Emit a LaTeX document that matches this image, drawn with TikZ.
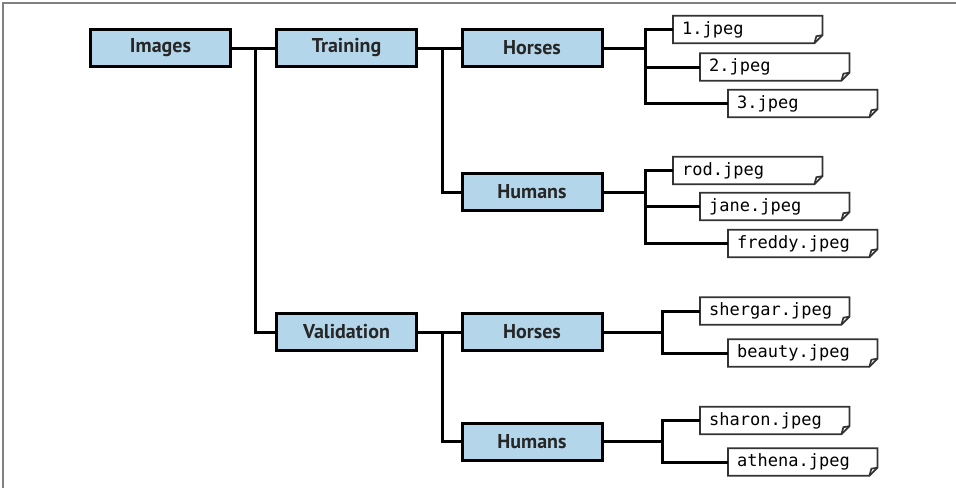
\documentclass[tikz,border=0pt]{standalone}
\usepackage{fontspec}
\setmainfont{PT Sans}
\setmonofont{DejaVu Sans Mono}
\usetikzlibrary{positioning}
\definecolor{folderblue}{RGB}{180,214,234}

\tikzset{
    folder/.style={draw, line width=3pt, fill=folderblue, minimum width=140pt,
        minimum height=37pt, font=\bfseries\fontsize{20}{20}\selectfont, text=black!85},
    file/.style={minimum width=149pt, minimum height=27pt, inner xsep=9pt, inner ysep=0pt,
        anchor=west, text width=131pt, align=left, font=\ttfamily\fontsize{17}{17}\selectfont},
    fileline/.style={line width=1.7pt, draw=black!80, line join=miter},
    link/.style={line width=3pt}
}

\begin{document}
\begin{tikzpicture}[x=1pt, y=-1pt]
    \useasboundingbox (0,0) rectangle (956,488);
    \draw[gray, line width=1.2pt] (3,488) -- (3,3) -- (956,3);

    % folders
    \node[folder] at (160.5,48) (images) {Images};
    \node[folder] at (346.5,48) (training) {Training};
    \node[folder] at (346.5,332) (validation) {Validation};
    \node[folder] at (532,48) (train_horses) {Horses};
    \node[folder] at (532,192) (train_humans) {Humans};
    \node[folder] at (532,332) (val_horses) {Horses};
    \node[folder] at (532,441.5) (val_humans) {Humans};

    \draw[link] (images.east) -- (training.west);
    \draw[link] (images.east) -- ++(23,0) |- (validation.west);
    \draw[link] (training.east) -- (train_horses.west);
    \draw[link] (training.east) -- ++(24,0) |- (train_humans.west);
    \draw[link] (validation.east) -- (val_horses.west);
    \draw[link] (validation.east) -- ++(24,0) |- (val_humans.west);

    % files
    \foreach \name/\xx/\yy/\txt/\src/\dx in {
        f_1/673/29.5/1.jpeg/train_horses/42,
        f_2/700/67/2.jpeg/train_horses/42,
        f_3/728/103.5/3.jpeg/train_horses/42,
        f_rod/673/170.5/rod.jpeg/train_humans/42,
        f_jane/700/206.5/jane.jpeg/train_humans/42,
        f_freddy/728/243.5/freddy.jpeg/train_humans/42,
        f_shergar/700/311/shergar.jpeg/val_horses/59,
        f_beauty/728/353/beauty.jpeg/val_horses/59,
        f_sharon/700/420.5/sharon.jpeg/val_humans/59,
        f_athena/728/462/athena.jpeg/val_humans/59} {
        \node[file] (\name) at (\xx,\yy) {\txt};
        \draw[fileline] (\name.north west) -- (\name.north east) -- ([yshift=8pt]\name.south east)
            -- ([xshift=-8pt]\name.south east) -- (\name.south west) -- cycle;
        \draw[fileline] ([xshift=-8pt]\name.south east) -- ([xshift=-6pt,yshift=7pt]\name.south east)
            -- ([yshift=8pt]\name.south east);
        \draw[link] (\src.east) -- ++(\dx,0) |- (\name.west);
    }
\end{tikzpicture}
\end{document}
